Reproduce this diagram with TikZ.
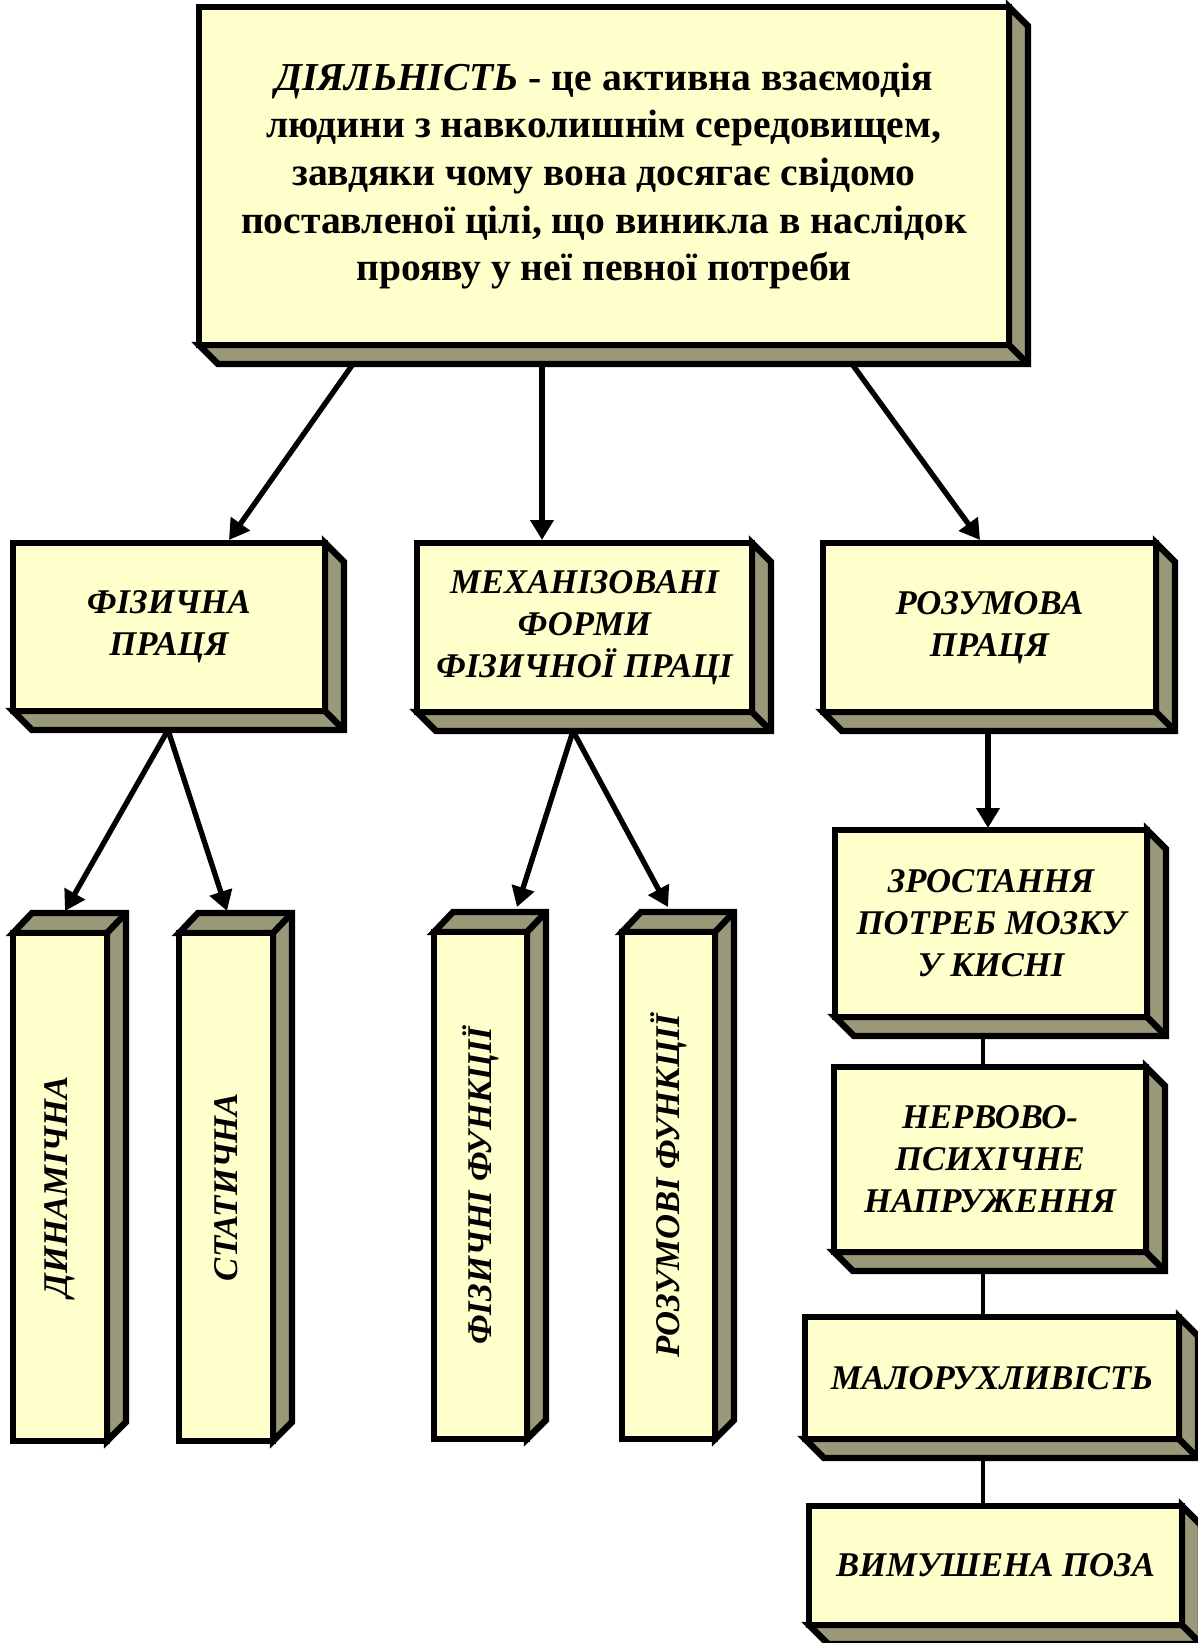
\documentclass[tikz,border=0pt]{standalone}
\usepackage{fontspec}
\setmainfont{Liberation Serif}
\usepackage{graphicx}
\usetikzlibrary{arrows.meta,calc}
\definecolor{frontc}{RGB}{255,255,204}
\definecolor{sidec}{RGB}{153,153,122}
\tikzset{
  frontbox/.style={draw=black, line width=4.8pt, fill=frontc, inner sep=0pt, outer sep=0pt,
    align=center, anchor=north west, font=\bfseries\itshape\fontsize{26}{31.5}\selectfont},
  sideface/.style={draw=black, line width=4.8pt, fill=sidec, line join=miter},
  edgeline/.style={draw=black, line width=4.8pt},
  arr/.style={draw=black, line width=4pt, -{Triangle[length=15pt,width=17pt]}},
  link/.style={draw=black, line width=3.4pt},
}
% box whose depth goes down-right
\newcommand{\downbox}[7][]{%
  \draw[sideface] (#3,#6) -- ({#3+19},{#6+19}) -- ({#5+19},{#6+19}) -- ({#5+19},{#4+19}) -- (#5,#4) -- (#5,#6) -- cycle;
  \draw[edgeline] (#5,#6) -- ({#5+19},{#6+19});
  \node[frontbox, minimum width={(#5-#3)*0.75pt}, minimum height={(#6-#4)*0.75pt}, #1] (#2) at (#3,#4) {#7};
}
% box whose depth goes up-right
\newcommand{\upbox}[6]{%
  \draw[sideface] (#2,#3) -- ({#2+19},{#3-20}) -- ({#4+19},{#3-20}) -- ({#4+19},{#5-19}) -- (#4,#5) -- (#4,#3) -- cycle;
  \draw[edgeline] (#4,#3) -- ({#4+19},{#3-20});
  \node[frontbox, minimum width={(#4-#2)*0.75pt}, minimum height={(#5-#3)*0.75pt}] (#1) at (#2,#3) {\rotatebox{90}{#6}};
}
\begin{document}
\begin{tikzpicture}[x=0.75pt, y=-0.75pt]
\useasboundingbox (0,0) rectangle (1197,1643);
\fill[white] (0,0) rectangle (1197,1643);

% top box
\downbox[font=\bfseries\fontsize{29.7}{35.8}\selectfont]{top}{199}{7}{1009}{345}{\textit{ДІЯЛЬНІСТЬ} - це активна взаємодія\\ людини з навколишнім середовищем,\\ завдяки чому вона досягає свідомо\\ поставленої цілі, що виникла в наслідок\\ прояву у неї певної потреби}

% second row
\downbox{fiz}{13}{543}{325}{711}{ФІЗИЧНА\\ ПРАЦЯ}
\downbox{mech}{417}{543}{752}{712}{МЕХАНІЗОВАНІ\\ ФОРМИ\\ ФІЗИЧНОЇ ПРАЦІ}
\downbox{raz}{823}{543}{1156}{712}{РОЗУМОВА\\ ПРАЦЯ}

% columns
\upbox{din}{13}{933}{107}{1441}{ДИНАМІЧНА}
\upbox{stat}{179}{933}{273}{1441}{СТАТИЧНА}
\upbox{fizf}{434}{932}{527}{1439}{ФІЗИЧНІ ФУНКЦІЇ}
\upbox{rozf}{622}{932}{715}{1439}{РОЗУМОВІ ФУНКЦІЇ}

% right column
\downbox{zros}{835}{830}{1147}{1017}{ЗРОСТАННЯ\\ ПОТРЕБ МОЗКУ\\ У КИСНІ}
\downbox{nerv}{834}{1067}{1146}{1252}{НЕРВОВО-\\ ПСИХІЧНЕ\\ НАПРУЖЕННЯ}
\downbox{malo}{805}{1317}{1179}{1439}{МАЛОРУХЛИВІСТЬ}
\downbox{vym}{809}{1506}{1182}{1625}{ВИМУШЕНА ПОЗА}

% arrows
\draw[arr] ($(top.south west)+(154,19)$) -- ($(fiz.north west)+(216,-3)$);
\draw[arr] ($(top.south west)+(343,19)$) -- ($(mech.north west)+(125,-3)$);
\draw[arr] ($(top.south west)+(653,19)$) -- ($(raz.north west)+(157,-3)$);
\draw[arr] ($(fiz.south west)+(155,19)$) -- ($(din.north west)+(52,-22)$);
\draw[arr] ($(fiz.south west)+(155,19)$) -- ($(stat.north west)+(48,-22)$);
\draw[arr] ($(mech.south west)+(156,19)$) -- ($(fizf.north west)+(83,-25)$);
\draw[arr] ($(mech.south west)+(156,19)$) -- ($(rozf.north west)+(46,-25)$);
\draw[arr] ($(raz.south west)+(165,22)$) -- ($(zros.north west)+(153,-2)$);

% links
\draw[link] ($(zros.south west)+(148,19)$) -- ($(nerv.north west)+(149,0)$);
\draw[link] ($(nerv.south west)+(149,19)$) -- ($(malo.north west)+(178,0)$);
\draw[link] ($(malo.south west)+(178,19)$) -- ($(vym.north west)+(174,0)$);
\end{tikzpicture}
\end{document}
